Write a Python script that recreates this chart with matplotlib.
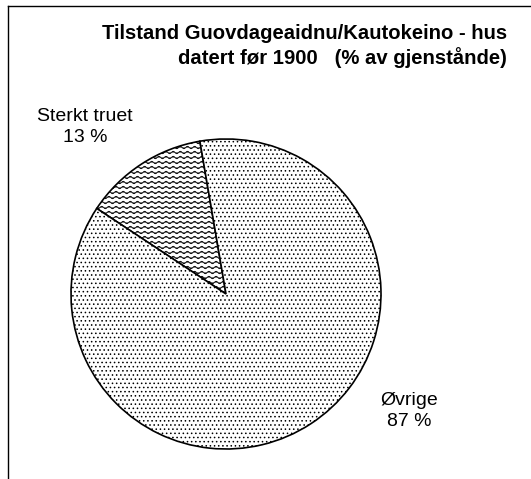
import warnings
import numpy as np
import matplotlib
matplotlib.use('Agg')
import matplotlib.pyplot as plt
import matplotlib.hatch as mhatch
from matplotlib.path import Path
from matplotlib.lines import Line2D

warnings.filterwarnings('ignore')

title_lines = ['Tilstand Guovdageaidnu/Kautokeino - hus',
               'datert før 1900   (% av gjenstånde)']
categories = ['Sterkt truet', 'Øvrige']
shares = [13, 87]
hatches = ['~', '....']
label_pos = [(-0.91, 1.08), (1.18, -0.755)]


class WaveHatch(mhatch.HatchPatternBase):
    # wavy lines, like the Excel "wave" fill pattern
    def __init__(self, hatch, density):
        self.rows = 20 if '~' in hatch else 0
        self.steps = 14 * 8
        self.num_vertices = self.rows * (self.steps + 1)

    def set_vertices_and_codes(self, vertices, codes):
        xs = np.linspace(0, 1, self.steps + 1)
        k = 0
        for i in range(self.rows):
            y = (i + 0.5) / self.rows
            vertices[k:k + self.steps + 1, 0] = xs
            vertices[k:k + self.steps + 1, 1] = y + 0.012 * np.sin(2 * np.pi * 14 * xs)
            codes[k] = Path.MOVETO
            codes[k + 1:k + self.steps + 1] = Path.LINETO
            k += self.steps + 1


mhatch._hatch_types.append(WaveHatch)

plt.rcParams['font.family'] = 'Liberation Sans'
plt.rcParams['hatch.linewidth'] = 0.6

W, H = 531, 479
fig = plt.figure(figsize=(W / 100, H / 100), dpi=100)

# frame (only top and left edges are visible in the crop)
fig.add_artist(Line2D([8 / W, 1], [1 - 6 / H, 1 - 6 / H], color='black', lw=1))
fig.add_artist(Line2D([8 / W, 8 / W], [0, 1 - 6 / H], color='black', lw=1))

r = 155
cx, cy = 226, H - 294
ax = fig.add_axes([(cx - r) / W, (cy - r) / H, 2 * r / W, 2 * r / H])
wedges, _ = ax.pie(shares, startangle=99.7, counterclock=True,
                   wedgeprops=dict(facecolor='white', edgecolor='black', linewidth=1.2))
for w, h in zip(wedges, hatches):
    w.set_hatch(h)
ax.set_xlim(-1, 1)
ax.set_ylim(-1, 1)
ax.set_aspect('equal')
ax.axis('off')

for name, val, (x, y) in zip(categories, shares, label_pos):
    ax.text(x, y, f'{name}\n{val} %', ha='center', va='center', fontsize=14,
            linespacing=1.3, clip_on=False)

fig.text(507 / W, 1 - 39 / H, title_lines[0], ha='right', va='baseline',
         fontsize=14.6, fontweight='bold')
fig.text(507 / W, 1 - 64 / H, title_lines[1], ha='right', va='baseline',
         fontsize=14.6, fontweight='bold')

fig.savefig('out.png', dpi=100)
